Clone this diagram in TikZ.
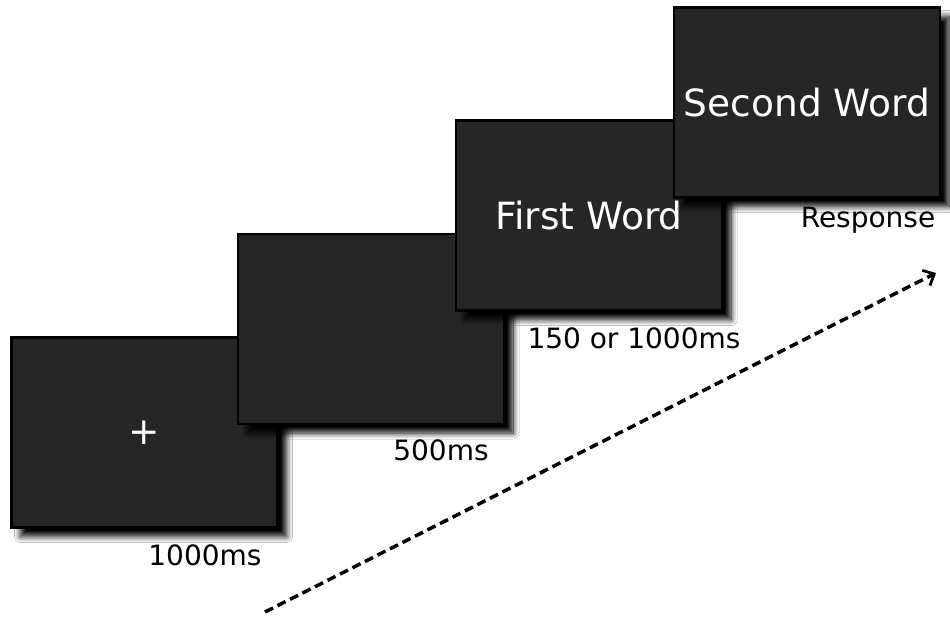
\documentclass[tikz,border=0pt]{standalone}
\usepackage{fontspec}
\setmainfont{DejaVu Sans}
\usetikzlibrary{shadows.blur,arrows.meta}
\definecolor{screenfill}{HTML}{262626}
\tikzset{
  screen/.style={draw=black, line width=2.4pt, fill=screenfill,
    minimum width=266pt, minimum height=190pt, inner sep=0pt,
    text=white, font=\fontsize{37.5}{40}\selectfont,
    blur shadow={shadow xshift=9pt, shadow yshift=-9pt, shadow blur radius=6pt, shadow opacity=100, shadow blur steps=10}},
  timelabel/.style={anchor=base, inner sep=0pt, text=black, font=\fontsize{28}{30}\selectfont},
  timearrow/.style={line width=3.5pt, dash pattern=on 9pt off 5pt, -{Straight Barb[length=9pt,width=17pt,line width=2.8pt]}}
}
\begin{document}
\begin{tikzpicture}[x=1pt,y=-1pt]
\useasboundingbox (0,0) rectangle (950,620);
\fill[white] (0,0) rectangle (950,620);
\node[screen] (s1) at (144.5,432.5) {\raisebox{-3pt}{+}};
\node[timelabel] (l1) at (205,565) {1000ms};
\node[screen] (s2) at (371,329) {};
\node[timelabel] (l2) at (441,460) {500ms};
\node[screen] (s3) at (589,215.5) {First Word};
\node[timelabel] (l3) at (634,348) {150 or 1000ms};
\node[screen] (s4) at (807,102.5) {Second Word};
\node[timelabel] (l4) at (868,228) {Response};
\coordinate (tstart) at (265,612);
\coordinate (tend) at (936,273);
\draw[timearrow] (tstart) -- (tend);
\end{tikzpicture}
\end{document}
